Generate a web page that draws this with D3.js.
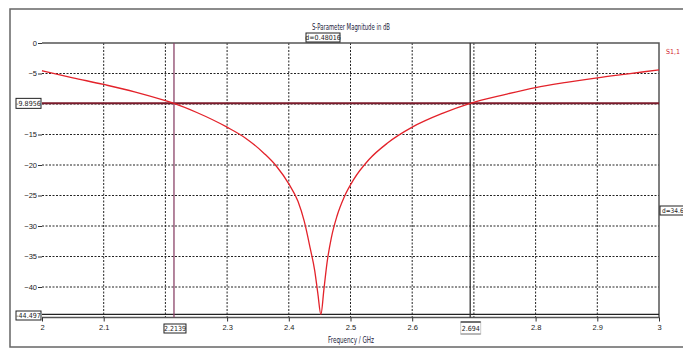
<!DOCTYPE html>
<html>
<head>
<meta charset="utf-8">
<script src="https://cdn.jsdelivr.net/npm/d3@7"></script>
<style>
  html, body { margin: 0; padding: 0; background: #fff; }
  svg { display: block; font-family: "Liberation Sans Narrow", "DejaVu Sans Condensed", sans-serif; }
</style>
</head>
<body>
<svg id="chart" width="683" height="349"></svg>
<script>
// S11 magnitude sweep (GHz, dB)
const freqGHz = [2.00, 2.05, 2.10, 2.15, 2.20, 2.2139, 2.25, 2.30, 2.33, 2.36, 2.38, 2.40,
                 2.415, 2.425, 2.435, 2.442, 2.447, 2.452,
                 2.457, 2.462, 2.469, 2.478, 2.49, 2.505, 2.53, 2.56, 2.60, 2.65, 2.694,
                 2.75, 2.80, 2.85, 2.90, 2.95, 3.00];
const s11dB   = [-4.55, -5.7, -6.8, -8.0, -9.45, -9.8956, -11.35, -13.8, -15.6, -18.1, -20.2, -23.1,
                 -26.0, -29.2, -33.8, -37.3, -41.0, -44.497,
                 -40.3, -36.0, -31.9, -28.4, -25.2, -22.4, -19.1, -16.4, -13.8, -11.5, -9.8956,
                 -8.45, -7.3, -6.45, -5.7, -5.05, -4.4];
const xTicks = [2, 2.1, 2.2, 2.3, 2.4, 2.5, 2.6, 2.7, 2.8, 2.9, 3];
const yTicks = [0, -5, -10, -15, -20, -25, -30, -35, -40];
const xMarkers = [2.2139, 2.694];
const yMarkers = [-9.8956, -44.497];
const deltaLabels = ["d=0.48016", "d=34.6"];
const seriesName = "S1,1";
const titleText = "S-Parameter Magnitude in dB";
const xTitle = "Frequency / GHz";

const svg = d3.select("#chart");
const plot = { left: 42, right: 659, top: 43, bottom: 317.5 };

const x = d3.scaleLinear().domain([2, 3]).range([plot.left, plot.right]);
const y = d3.scaleLinear().domain([-45, 0]).range([plot.bottom, plot.top]);

// outer frame
svg.append("rect").attr("x", 10).attr("y", 9).attr("width", 690).attr("height", 338)
  .attr("fill", "none").attr("stroke", "#666").attr("stroke-width", 1.5);

// dotted grid
const grid = svg.append("g");
grid.selectAll("line.gx").data(xTicks.filter(d => d > 2 && d < 3)).join("line")
  .attr("x1", d => x(d)).attr("x2", d => x(d))
  .attr("y1", plot.top).attr("y2", plot.bottom)
  .attr("stroke", "#222").attr("stroke-width", 1).attr("stroke-dasharray", "2,1.5");
grid.selectAll("line.gy").data(yTicks.filter(d => d < 0)).join("line")
  .attr("x1", plot.left).attr("x2", plot.right)
  .attr("y1", d => y(d)).attr("y2", d => y(d))
  .attr("stroke", "#222").attr("stroke-width", 1).attr("stroke-dasharray", "2,1.5");

// plot border (top, right, bottom)
svg.append("path")
  .attr("d", `M${plot.left},${plot.top}H${plot.right}V${plot.bottom}H${plot.left}`)
  .attr("fill", "none").attr("stroke", "#555").attr("stroke-width", 1.5);

// axes; tick labels hidden where a marker readout sits
const yAxis = d3.axisLeft(y).tickValues(yTicks.filter(d => d !== -10)).tickSize(4).tickFormat(d3.format("d"));
const gy = svg.append("g").attr("transform", `translate(${plot.left},0)`).call(yAxis);
gy.select(".domain").remove();
gy.selectAll(".tick line").attr("stroke", "#333");
gy.selectAll(".tick text").attr("font-size", 7.5).attr("fill", "#222").attr("x", -5)
  .attr("font-family", "Liberation Sans Narrow, sans-serif");

const xAxis = d3.axisBottom(x).tickValues(xTicks.filter(d => d !== 2.2 && d !== 2.7))
  .tickSize(4).tickFormat(d => String(+d.toFixed(1)));
const gx = svg.append("g").attr("transform", `translate(0,${plot.bottom})`).call(xAxis);
gx.select(".domain").remove();
gx.selectAll(".tick line").attr("stroke", "#333");
gx.selectAll(".tick text").attr("font-size", 7.5).attr("fill", "#222").attr("y", 7)
  .attr("font-family", "Liberation Sans Narrow, sans-serif");

// horizontal markers
svg.append("line").attr("x1", plot.left).attr("x2", plot.right)
  .attr("y1", y(yMarkers[0])).attr("y2", y(yMarkers[0]))
  .attr("stroke", "#7a1a2a").attr("stroke-width", 2);
svg.append("line").attr("x1", plot.left).attr("x2", plot.right)
  .attr("y1", y(yMarkers[1])).attr("y2", y(yMarkers[1]))
  .attr("stroke", "#222").attr("stroke-width", 1.3);

// vertical markers
svg.append("line").attr("x1", x(xMarkers[0])).attr("x2", x(xMarkers[0]))
  .attr("y1", plot.top).attr("y2", plot.bottom)
  .attr("stroke", "#8a4468").attr("stroke-width", 1.3);
svg.append("line").attr("x1", x(xMarkers[1])).attr("x2", x(xMarkers[1]))
  .attr("y1", plot.top).attr("y2", plot.bottom)
  .attr("stroke", "#333").attr("stroke-width", 1.3);

// S11 curve
const line = d3.line().x((d, i) => x(freqGHz[i])).y(d => y(d)).curve(d3.curveMonotoneX);
svg.append("path").datum(s11dB).attr("d", line)
  .attr("fill", "none").attr("stroke", "#e3222a").attr("stroke-width", 1.3);

// boxed marker readouts
function boxLabel(bx, by, w, h, text, opts = {}) {
  const g = svg.append("g");
  g.append("rect").attr("x", bx).attr("y", by).attr("width", w).attr("height", h)
    .attr("fill", "#fff").attr("stroke", opts.stroke || "#222").attr("stroke-width", 1);
  const t = g.append("text").attr("y", by + h / 2 + 2.5)
    .attr("font-size", opts.size || 7).attr("fill", "#222").text(text);
  if (opts.left) t.attr("x", bx + 2);
  else t.attr("x", bx + w / 2).attr("text-anchor", "middle");
  return g;
}
boxLabel(16, y(yMarkers[0]) - 5, 25, 10, yMarkers[0].toFixed(4));
boxLabel(16, 311, 25, 9, String(yMarkers[1]));
boxLabel(x(xMarkers[0]) - 10, 324, 22, 9, String(xMarkers[0]));
boxLabel(x(xMarkers[1]) - 9.5, 322, 20, 12, String(xMarkers[1]), { stroke: "#ccc" });
svg.append("line").attr("x1", x(xMarkers[1]) - 9.5).attr("x2", x(xMarkers[1]) + 10.5)
  .attr("y1", 322).attr("y2", 322).attr("stroke", "#222").attr("stroke-width", 1.2);
svg.append("line").attr("x1", x(xMarkers[1]) - 9.5).attr("x2", x(xMarkers[1]) + 10.5)
  .attr("y1", 334).attr("y2", 334).attr("stroke", "#888").attr("stroke-width", 1);
boxLabel(306, 33, 34, 9, deltaLabels[0]);
boxLabel(660, 206, 30, 9, deltaLabels[1], { left: true, size: 6.5 });

// titles
svg.append("text").attr("x", 351).attr("y", 30).attr("text-anchor", "middle")
  .attr("font-size", 8).attr("fill", "#1a1a3a")
  .attr("textLength", 78).attr("lengthAdjust", "spacingAndGlyphs").text(titleText);
svg.append("text").attr("x", 351).attr("y", 343).attr("text-anchor", "middle")
  .attr("font-size", 8).attr("fill", "#1a1a3a")
  .attr("textLength", 46).attr("lengthAdjust", "spacingAndGlyphs").text(xTitle);

// series label
svg.append("text").attr("x", 666).attr("y", 54)
  .attr("font-size", 7).attr("fill", "#d0202a").text(seriesName);
</script>
</body>
</html>
